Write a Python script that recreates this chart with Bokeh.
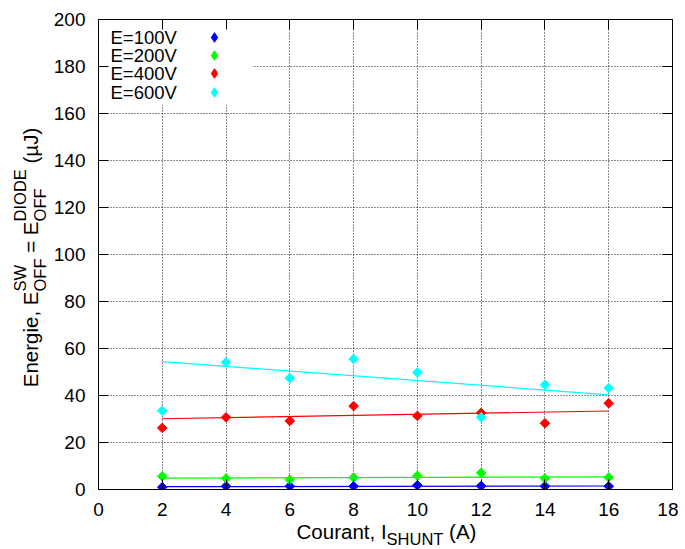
import numpy as np
from bokeh.plotting import figure
from bokeh.layouts import row, column
from bokeh.models import (Range1d, LinearAxis, Label, Legend, LegendItem,
                          BoxAnnotation)
from bokeh.embed import file_html
from bokeh.resources import INLINE

# ---------------- data ----------------
current = [2, 4, 6, 8, 10, 12, 14, 16]
e100 = [1.0, 1.4, 1.4, 1.4, 1.8, 1.5, 1.4, 1.4]
e200 = [5.6, 4.7, 4.2, 5.1, 5.8, 7.1, 4.7, 5.1]
e400 = [26.2, 30.7, 29.2, 35.5, 31.3, 32.6, 28.2, 36.7]
e600 = [33.5, 54.1, 47.4, 55.5, 49.8, 30.7, 44.6, 43.2]
fit_x = [2, 16]
fit100 = [1.2, 1.5]
fit200 = [4.8, 5.4]
fit400 = [30.1, 33.4]
fit600 = [54.4, 40.3]
series_labels = ["E=100V", "E=200V", "E=400V", "E=600V"]
colors = ["#0000ff", "#00ff00", "#ff0000", "#00ffff"]
x_ticks = [0, 2, 4, 6, 8, 10, 12, 14, 16, 18]
y_ticks = [0, 20, 40, 60, 80, 100, 120, 140, 160, 180, 200]

FONT = "Liberation Sans"

# layout (page pixels)
YW = 50                     # strip holding the y title
PW, PH = 628, 520           # main plot
XH = 28                     # strip holding the x title
BL, BR, BT, BB = 46, 6, 19, 31
FRAME_L = YW + BL           # 96
FRAME_R = YW + PW - BR      # 672
FRAME_T = BT                # 19
FRAME_B = PH - BB           # 489
TOTAL_H = PH + XH           # 548

p = figure(width=PW, height=PH, x_range=Range1d(0, 18), y_range=Range1d(0, 200),
           output_backend="svg", toolbar_location=None,
           min_border_left=BL, min_border_right=BR, min_border_top=BT,
           min_border_bottom=BB)
p.outline_line_color = "black"
p.background_fill_color = "white"

for ax, ticks in ((p.xaxis[0], x_ticks), (p.yaxis[0], y_ticks)):
    ax.ticker = ticks
    ax.major_tick_in = 10
    ax.major_tick_out = 0
    ax.minor_tick_line_color = None
    ax.axis_line_color = "black"
    ax.major_tick_line_color = "black"
    ax.major_label_text_font = FONT
    ax.major_label_text_font_size = "19px"
    ax.major_label_text_color = "black"
p.xaxis[0].major_label_standoff = 13
p.yaxis[0].major_label_standoff = 13

for loc, ticks in (("above", x_ticks), ("right", y_ticks)):
    ax = LinearAxis(ticker=ticks, major_tick_in=10, major_tick_out=0,
                    minor_tick_line_color=None, major_label_text_font_size="1px",
                    major_label_text_color=None, major_label_standoff=0,
                    axis_line_color="black", major_tick_line_color="black")
    p.add_layout(ax, loc)

p.xgrid.ticker = x_ticks
p.ygrid.ticker = y_ticks
for g in (p.xgrid[0], p.ygrid[0]):
    g.grid_line_color = "black"
    g.grid_line_dash = "1 2"
    g.grid_line_width = 1
    g.grid_line_alpha = 0.9

# white key background hiding the grid
key_bg = BoxAnnotation(left=1, right=154, top=470, bottom=385,
                       left_units="screen", right_units="screen",
                       top_units="screen", bottom_units="screen",
                       fill_color="white", fill_alpha=1.0, line_color=None,
                       level="underlay")
p.add_layout(key_bg)

series = [e100, e200, e400, e600]
fits = [fit100, fit200, fit400, fit600]
for vals, fit, c in zip(series, fits, colors):
    p.line(fit_x, fit, line_color=c, line_width=1.2)
key_rs = []
for vals, fit, c in zip(series, fits, colors):
    p.scatter(current, vals, marker="square", size=6.8, angle=np.pi / 4,
              fill_color=c, line_color=c, line_width=1)
    # hidden twin renderer, only used to draw the key's sample glyph
    key_rs.append(p.scatter(current, vals, marker="diamond", fill_color=c,
                            line_color=c, line_width=1, visible=False))

# key: text then marker (one small legend per entry)
key_rows = [36.7, 55.0, 73.3, 92.3]     # page y of each key row
G = 24
for r, yc_page in zip(key_rs, key_rows):
    lg = Legend(items=[LegendItem(label=" ", renderers=[r])],
                location=(212 - FRAME_L - G / 2, FRAME_B - (yc_page + G / 2)),
                glyph_width=G, glyph_height=G, label_height=G, label_width=0,
                label_standoff=0, spacing=0, padding=0, margin=0,
                border_line_color=None, background_fill_alpha=0,
                label_text_font_size="1px", label_text_alpha=0)
    p.add_layout(lg)
for lab, yc_page in zip(series_labels, key_rows):
    p.add_layout(Label(x=12, y=FRAME_B - yc_page, x_units="screen", y_units="screen",
                       text=lab, text_font=FONT, text_font_size="18.5px",
                       text_baseline="middle", text_align="left",
                       text_color="black"))

# ---------- composed axis titles with sub/superscripts ----------
WIDTHS = {" ": 278, "(": 333, ")": 333, ",": 278, "=": 584, "A": 667, "C": 722,
          "D": 722, "E": 667, "F": 611, "H": 722, "I": 278, "J": 500, "N": 722,
          "O": 778, "S": 667, "T": 611, "U": 722, "W": 944, "a": 556, "e": 556,
          "g": 556, "i": 222, "n": 556, "o": 556, "r": 333, "t": 278, "u": 556,
          "\u00b5": 576}


def wid(s, size):
    return sum(WIDTHS.get(ch, 556) for ch in s) * size / 1000.0


def strip(w, h, bl, br, bt, bb):
    f = figure(width=w, height=h, x_range=Range1d(0, 1), y_range=Range1d(0, 1),
               output_backend="svg", toolbar_location=None,
               x_axis_type=None, y_axis_type=None,
               min_border_left=bl, min_border_right=br, min_border_top=bt,
               min_border_bottom=bb)
    f.outline_line_color = None
    f.background_fill_color = "white"
    f.border_fill_color = "white"
    return f


def compose(fig, pieces, center, base, rotated, origin):
    """center: page coord of the title's middle along its direction;
    base: page coord of the main baseline; origin: page (x, y) of the
    strip frame's bottom-left corner."""
    ox, oy = origin
    total = 0
    for pc in pieces:
        group = pc if isinstance(pc, list) else [pc]
        total += max(wid(t, s) for t, s, _ in group)
    pos = 0.0
    for pc in pieces:
        group = pc if isinstance(pc, list) else [pc]
        adv = 0
        for t, s, shift in group:
            lead = len(t) - len(t.lstrip(" "))
            off = pos + wid(" " * lead, s)
            txt = t.lstrip(" ")
            perp = base + shift - 0.35 * s     # centre of the capitals
            if rotated:
                px, py = perp, center + total / 2 - off
            else:
                px, py = center - total / 2 + off, perp
            lab = Label(x=px - ox, y=oy - py, x_units="screen", y_units="screen",
                        text=txt, angle=(np.pi / 2 if rotated else 0.0))
            lab.text_font = FONT
            lab.text_font_size = f"{s}px"
            lab.text_align = "left"
            lab.text_baseline = "middle"
            lab.text_color = "black"
            fig.add_layout(lab)
            adv = max(adv, wid(t, s))
        pos += adv


F, S = 20.5, 16.5
xfig = strip(PW, XH, BL, BR, 0, 0)
compose(xfig, [("Courant, I", F, 0), ("SHUNT", S, 6.5), (" (A)", F, 0)],
        center=(FRAME_L + FRAME_R) / 2, base=538, rotated=False,
        origin=(FRAME_L, TOTAL_H))

yfig = strip(YW, TOTAL_H, 0, 0, FRAME_T, TOTAL_H - FRAME_B)
compose(yfig, [("Energie, E", F, 0), [("OFF", S, 7.5), ("SW", S, -12.5)],
               (" = E", F, 0), [("OFF", S, 7.5), ("DIODE", S, -12.5)],
               (" (\u00b5J)", F, 0)],
        center=257, base=37.5, rotated=True, origin=(0, FRAME_B))

layout = row(yfig, column(p, xfig))
open("out.html", "w").write(file_html(layout, INLINE))
